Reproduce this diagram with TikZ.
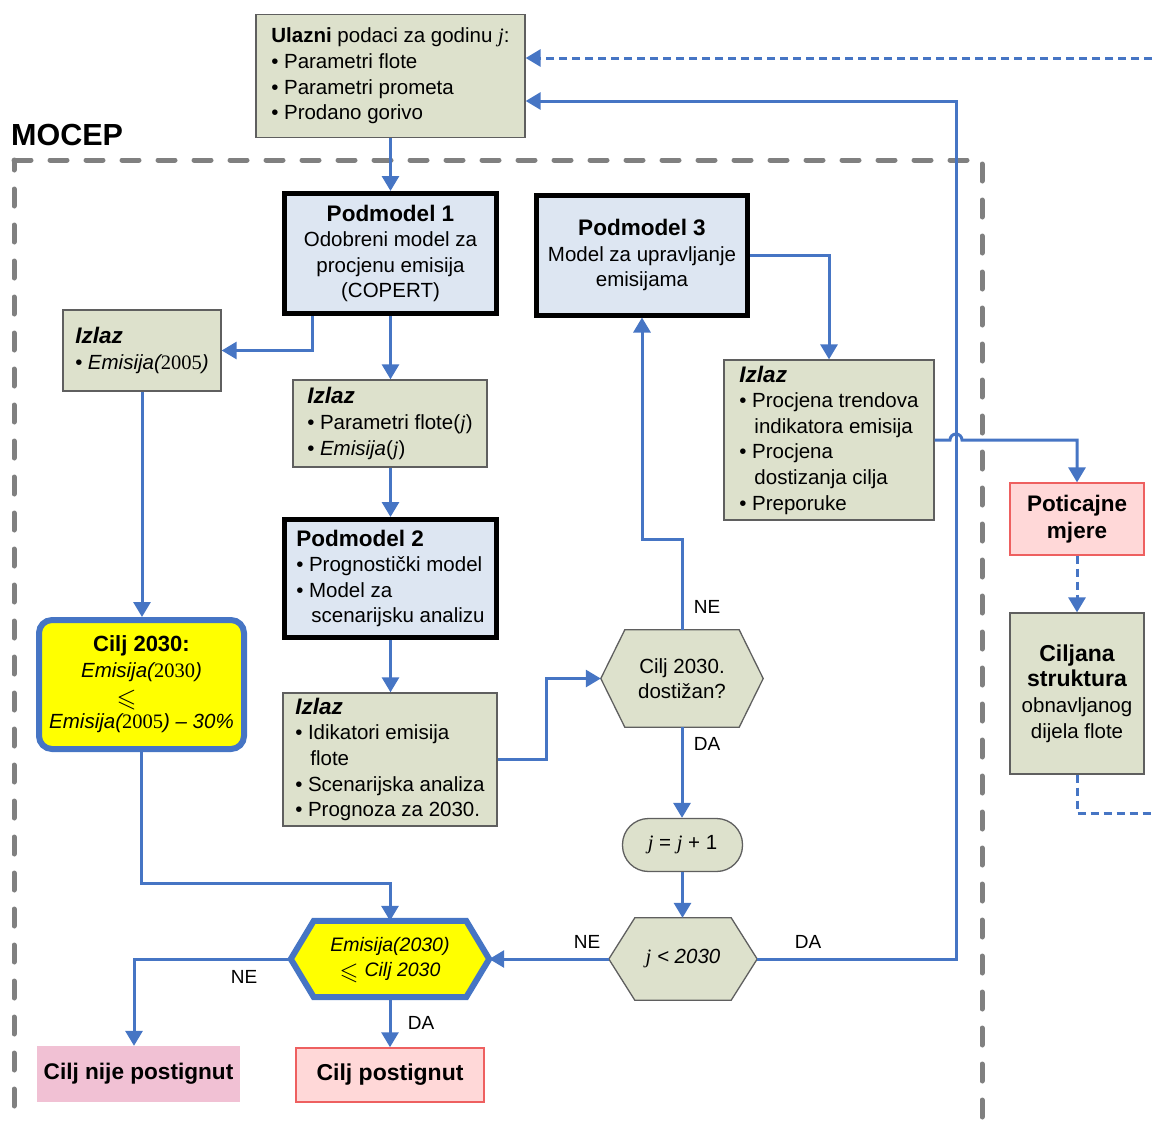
\documentclass[tikz,border=0pt]{standalone}
\usepackage{fontspec}
\usepackage{amssymb}
\setmainfont{Liberation Sans}
\newfontfamily\tnr{Liberation Serif}
\usetikzlibrary{arrows.meta,calc,backgrounds}

\definecolor{olivefill}{RGB}{221,225,204}
\definecolor{boxline}{RGB}{95,95,95}
\definecolor{pmfill}{RGB}{221,230,242}
\definecolor{flow}{RGB}{70,117,196}
\definecolor{framegrey}{RGB}{128,128,128}
\definecolor{pinkA}{RGB}{241,193,212}
\definecolor{pinkB}{RGB}{255,216,216}
\definecolor{redline}{RGB}{238,96,96}
\definecolor{goal}{RGB}{255,255,0}

\newcommand{\jj}{{\tnr\itshape j}}
\newcommand{\bul}{\textbullet\hspace*{5.5pt}}
\newcommand{\hang}{\hspace*{15pt}}
\newcommand{\ttl}[1]{{\fontsize{22.5}{25.5}\selectfont\bfseries #1}}
\newcommand{\bigleq}{\smash{\raisebox{-3pt}{\scalebox{1.25}{$\leqslant$}}}}

\begin{document}
\begin{tikzpicture}[x=1pt,y=-1pt,
  txt/.style={font=\fontsize{20.5}{25.6}\selectfont, inner sep=0pt, align=left},
  obox/.style={txt, draw=boxline, line width=1.3pt, fill=olivefill},
  pbox/.style={txt, draw=black, line width=5pt, fill=pmfill},
  goalbox/.style={txt, align=center, draw=flow, line width=6pt, fill=goal, rounded corners=13pt},
  hexcell/.style={txt, align=center, shape=rectangle},
  hexgrey/.style={draw=boxline, line width=1.3pt, fill=olivefill},
  hexgoal/.style={draw=flow, line width=6pt, fill=goal, line join=miter},
  conn/.style={draw=flow, line width=3pt, -{Triangle[length=15pt,width=17pt]}},
  dconn/.style={conn, dash pattern=on 8pt off 5pt},
  wire/.style={draw=flow, line width=3pt, dash pattern=on 8pt off 5pt},
  lbl/.style={font=\fontsize{19}{22}\selectfont, inner sep=0pt},
  frame/.style={draw=framegrey, line width=5pt, line cap=round, dash pattern=on 17pt off 19pt}
]
\useasboundingbox (0,0) rectangle (1153,1120);
\clip (0,0) rectangle (1153,1120);

% model boundary
\begin{scope}[on background layer]
  \draw[frame] (14,160) -- (982,160) -- (982,1123) -- (14,1123) -- cycle;
\end{scope}
\node[anchor=base west, inner sep=0pt, font=\bfseries\fontsize{30.5}{31}\selectfont] (mocep) at (11,145) {MOCEP};

% input data
\node[obox, minimum width=269, minimum height=123] (ulaz) at (390.5,76)
  {\textbf{Ulazni} podaci za godinu \jj:\\ \bul Parametri flote\\ \bul Parametri prometa\\ \bul Prodano gorivo};

% sub-models
\node[pbox, align=center, minimum width=212, minimum height=120] (pm1) at (390.5,253.5)
  {\ttl{Podmodel 1}\\ Odobreni model za\\ procjenu emisija\\ (COPERT)};
\node[pbox, align=center, minimum width=211, minimum height=120] (pm3) at (642,255)
  {\ttl{Podmodel 3}\\ Model za upravljanje\\ emisijama};
\node[pbox, minimum width=212, minimum height=118] (pm2) at (390.5,578.5)
  {\ttl{Podmodel 2}\\ \bul Prognostički model\\ \bul Model za\\ \hang scenarijsku analizu};

% outputs
\node[obox, minimum width=158, minimum height=81] (izl1) at (142,350.5)
  {\ttl{\itshape Izlaz}\\ \bul{\itshape Emisija(}{\tnr 2005}{\itshape )}};
\node[obox, minimum width=194, minimum height=87] (izl2) at (390,423.5)
  {\ttl{\itshape Izlaz}\\ \bul Parametri flote(\jj)\\ \bul{\itshape Emisija}(\jj)};
\node[obox, minimum width=210, minimum height=160] (izl3) at (829,440)
  {\ttl{\itshape Izlaz}\\ \bul Procjena trendova\\ \hang indikatora emisija\\ \bul Procjena\\ \hang dostizanja cilja\\ \bul Preporuke};
\node[obox, minimum width=214, minimum height=133] (izl4) at (390,759.5)
  {\ttl{\itshape Izlaz}\\ \bul Idikatori emisija\\ \hang flote\\ \bul Scenarijska analiza\\ \bul Prognoza za 2030.};

% target
\node[goalbox, minimum width=205, minimum height=129] (cilj) at (141.5,684.5)
  {{\fontsize{22}{25.5}\selectfont\bfseries Cilj 2030:}\\ {\itshape Emisija(}{\tnr 2030}{\itshape )}\\ \makebox[50pt][l]{\bigleq}\\ {\itshape Emisija(}{\tnr 2005}{\itshape ) -- 30\%}};

% decisions
\node[hexcell, minimum width=162, minimum height=97] (h1) at (682,678.5) {Cilj 2030.\\ dostižan?};
\node[obox, align=center, minimum width=120, minimum height=53, rounded corners=26pt] (jinc) at (682.5,845)
  {\jj{} = \jj{} + 1};
\node[hexcell, minimum width=148, minimum height=82] (h2) at (683,959) {\jj{} {\itshape < 2030}};
\node[hexcell, minimum width=198, minimum height=76, font=\fontsize{19.5}{25}\selectfont] (hy) at (390,959)
  {{\itshape Emisija(2030)}\\ \bigleq\hspace{6pt}{\itshape Cilj 2030}};

\begin{scope}[on background layer]
  \draw[hexgrey] (h1.west) -- ([xshift=24pt]h1.north west) -- ([xshift=-24pt]h1.north east)
    -- (h1.east) -- ([xshift=-24pt]h1.south east) -- ([xshift=24pt]h1.south west) -- cycle;
  \draw[hexgrey] (h2.west) -- ([xshift=26pt]h2.north west) -- ([xshift=-26pt]h2.north east)
    -- (h2.east) -- ([xshift=-26pt]h2.south east) -- ([xshift=26pt]h2.south west) -- cycle;
  \draw[hexgoal] (hy.west) -- ([xshift=23pt]hy.north west) -- ([xshift=-23pt]hy.north east)
    -- (hy.east) -- ([xshift=-23pt]hy.south east) -- ([xshift=23pt]hy.south west) -- cycle;
\end{scope}

% results
\node[txt, align=center, fill=pinkA, minimum width=203, minimum height=56, font=\bfseries\fontsize{22.6}{26}\selectfont] (nije) at (138.5,1074) {Cilj nije postignut};
\node[txt, align=center, fill=pinkB, draw=redline, line width=1.5pt, minimum width=188, minimum height=54, font=\bfseries\fontsize{23}{26}\selectfont] (post) at (390,1075) {Cilj postignut};

% measures
\node[txt, align=center, fill=pinkB, draw=redline, line width=1.3pt, minimum width=134, minimum height=72, font=\bfseries\fontsize{22.5}{27.5}\selectfont] (potic) at (1077,519) {Poticajne\\ mjere};
\node[obox, align=center, minimum width=134, minimum height=161] (ciljana) at (1077,693.5)
  {{\fontsize{23}{26.5}\selectfont\bfseries Ciljana}\\ {\fontsize{23}{26.5}\selectfont\bfseries struktura}\\ obnavljanog\\ dijela flote};

% helper points
\coordinate (ret) at (956,101);
\coordinate (jn) at (390,883);
\coordinate (rightA) at (1165,813);
\coordinate (rightB) at (1165,58);

% connectors
\draw[conn] (ulaz.south) -- (pm1.north);
\draw[conn] ([xshift=-78pt]pm1.south) |- (izl1.east);
\draw[conn] (pm1.south) -- (pm1.south |- izl2.north);
\draw[conn] (izl2.south -| pm2.north) -- (pm2.north);
\draw[conn] (pm2.south) -- (pm2.south |- izl4.north);
\draw[conn] (izl4.east) -- ++(49,0) |- (h1.west);
\draw[conn] (h1.north) -- ++(0,-90) -| (pm3.south);
\draw[conn] (h1.south) -- (h1.south |- jinc.north);
\draw[conn] (jinc.south) -- (jinc.south |- h2.north);
\draw[conn] (h2.west) -- (hy.east);
\draw[conn] (h2.east) -| (ret) -- (ret -| ulaz.east);
\draw[conn] (pm3.east) -| (izl3.north);
\draw[conn] (izl3.east) -- (950,440) arc[start angle=180, end angle=360, radius=6] -| (potic.north);
\draw[dconn] (potic.south) -- (ciljana.north);
\draw[wire] (ciljana.south) |- (rightA);
\draw[dconn] (rightB) -- (rightB -| ulaz.east);
\draw[conn] (izl1.south) -- (izl1.south |- cilj.north);
\draw[conn] (cilj.south) |- (jn) -- (hy.north);
\draw[conn] (hy.west) -| ([xshift=-4.5pt]nije.north);
\draw[conn] (hy.south) -- (post.north);

% branch labels
\node[lbl] (ne1) at (707,607) {NE};
\node[lbl] (da1) at (707,744) {DA};
\node[lbl] (ne2) at (587,942) {NE};
\node[lbl] (da2) at (808,942) {DA};
\node[lbl] (ne3) at (244,977) {NE};
\node[lbl] (da3) at (421,1023) {DA};
\end{tikzpicture}
\end{document}
